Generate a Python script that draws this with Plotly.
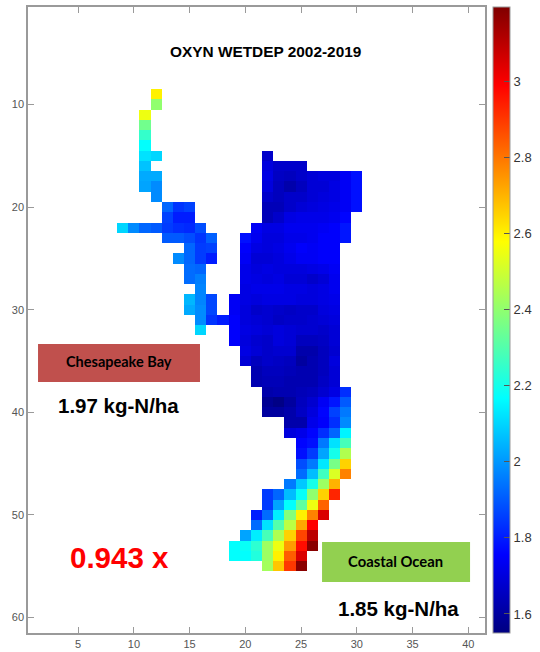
import plotly.graph_objects as go

x_ticks = [5, 10, 15, 20, 25, 30, 35, 40]
y_ticks = [10, 20, 30, 40, 50, 60]
cbar_ticks = [1.6, 1.8, 2, 2.2, 2.4, 2.6, 2.8, 3]
cbar_labels = ["1.6", "1.8", "2", "2.2", "2.4", "2.6", "2.8", "3"]
n_cols = 41
n_rows = 61
z_min, z_max = 1.55, 3.195

# Each row of the grid: [row number, first column, values...]
branch_rows = [
    [9, 12, 2.60], [10, 12, 2.40], [11, 11, 2.55], [12, 11, 2.35], [13, 11, 2.25], [14, 11, 2.17],
    [15, 11, 2.12, 2.10], [16, 11, 2.07], [17, 11, 2.03, 2.03], [18, 11, 2.02, 1.98], [19, 12, 1.98],
    [20, 13, 1.92, 1.84, 1.86], [21, 13, 1.86, 1.80, 1.80],
    [22, 9, 2.10, 1.98, 1.92, 1.90, 1.85, 1.83, 1.82, 1.88],
    [23, 13, 1.90, 1.90, 1.88, 1.84, 1.91], [24, 15, 1.92, 1.85, 1.86],
    [25, 14, 1.98, 1.92, 1.85, 1.80], [26, 15, 1.93, 1.92], [27, 15, 1.93, 1.96], [28, 16, 1.97],
    [29, 15, 2.05, 1.97, 1.87], [30, 15, 2.03, 1.98, 1.87], [31, 16, 1.98, 1.84, 1.80], [32, 16, 2.10],
]
body_rows = [
    [15, 22, 1.67], [16, 22, 1.70, 1.67, 1.67, 1.67],
    [17, 22, 1.71, 1.66, 1.65, 1.67, 1.69, 1.70, 1.70, 1.74, 1.78],
    [18, 22, 1.70, 1.65, 1.62, 1.65, 1.69, 1.69, 1.71, 1.74, 1.78],
    [19, 22, 1.67, 1.65, 1.67, 1.67, 1.69, 1.70, 1.71, 1.74, 1.78],
    [20, 22, 1.64, 1.64, 1.67, 1.69, 1.70, 1.71, 1.72, 1.74, 1.78],
    [21, 22, 1.64, 1.67, 1.71, 1.72, 1.72, 1.72, 1.73, 1.76],
    [22, 21, 1.74, 1.71, 1.71, 1.73, 1.73, 1.73, 1.74, 1.75, 1.79],
    [23, 20, 1.78, 1.73, 1.70, 1.70, 1.72, 1.72, 1.73, 1.75, 1.75, 1.79],
    [24, 20, 1.75, 1.71, 1.70, 1.71, 1.73, 1.75, 1.74, 1.75, 1.75],
    [25, 20, 1.74, 1.69, 1.69, 1.70, 1.72, 1.74, 1.74, 1.75, 1.75],
    [26, 20, 1.72, 1.70, 1.71, 1.70, 1.70, 1.70, 1.71, 1.72, 1.74],
    [27, 20, 1.72, 1.71, 1.70, 1.71, 1.69, 1.69, 1.67, 1.69, 1.73],
    [28, 20, 1.71, 1.72, 1.72, 1.72, 1.71, 1.71, 1.70, 1.71, 1.73],
    [29, 19, 1.74, 1.71, 1.70, 1.71, 1.71, 1.71, 1.70, 1.70, 1.71, 1.72],
    [30, 19, 1.74, 1.70, 1.67, 1.68, 1.67, 1.66, 1.67, 1.67, 1.70, 1.71],
    [31, 19, 1.75, 1.70, 1.69, 1.68, 1.66, 1.67, 1.67, 1.68, 1.69, 1.70],
    [32, 19, 1.75, 1.71, 1.70, 1.69, 1.70, 1.69, 1.68, 1.68, 1.67, 1.69],
    [33, 19, 1.75, 1.70, 1.68, 1.67, 1.70, 1.69, 1.65, 1.65, 1.66, 1.69],
    [34, 20, 1.71, 1.69, 1.67, 1.68, 1.68, 1.62, 1.62, 1.65, 1.68],
    [35, 20, 1.69, 1.65, 1.67, 1.66, 1.65, 1.60, 1.63, 1.65, 1.70],
    [36, 21, 1.63, 1.65, 1.65, 1.64, 1.63, 1.63, 1.65, 1.69],
    [37, 21, 1.63, 1.64, 1.64, 1.63, 1.63, 1.63, 1.66, 1.69],
    [38, 22, 1.62, 1.63, 1.63, 1.64, 1.65, 1.68, 1.71, 1.83],
    [39, 22, 1.58, 1.56, 1.60, 1.65, 1.68, 1.74, 1.79, 1.90],
    [40, 22, 1.60, 1.60, 1.62, 1.66, 1.70, 1.76, 1.86, 1.95],
]
ocean_rows = [
    [41, 24, 1.62, 1.62, 1.72, 1.75, 1.83, 1.98],
    [42, 24, 1.70, 1.72, 1.76, 1.83, 1.92, 2.15],
    [43, 25, 1.76, 1.78, 1.95, 2.12, 2.28],
    [44, 25, 1.78, 1.85, 2.02, 2.20, 2.45],
    [45, 25, 1.88, 1.95, 2.13, 2.36, 2.65],
    [46, 25, 1.93, 2.06, 2.27, 2.52, 2.78],
    [47, 24, 1.95, 2.08, 2.20, 2.42, 2.70],
    [48, 22, 1.85, 1.92, 2.06, 2.18, 2.40, 2.65, 2.93],
    [49, 22, 1.85, 2.02, 2.17, 2.32, 2.55, 2.83],
    [50, 21, 1.80, 1.93, 2.14, 2.38, 2.60, 2.78, 3.05],
    [51, 21, 1.93, 2.12, 2.30, 2.47, 2.72, 2.99],
    [52, 20, 2.02, 2.14, 2.28, 2.45, 2.65, 2.88, 3.10],
    [53, 19, 2.17, 2.18, 2.24, 2.42, 2.55, 2.74, 2.97, 3.18],
    [54, 19, 2.17, 2.17, 2.22, 2.42, 2.60, 2.84, 3.05],
    [55, 22, 2.43, 2.67, 2.90, 3.18],
]

grid = [[None] * n_cols for _ in range(n_rows)]
for entry in branch_rows + body_rows + ocean_rows:
    row, first = entry[0], entry[1]
    for k, v in enumerate(entry[2:]):
        grid[row - 1][first - 1 + k] = v

jet = [
    [0.0, "rgb(0,0,128)"], [0.125, "rgb(0,0,255)"], [0.375, "rgb(0,255,255)"],
    [0.625, "rgb(255,255,0)"], [0.875, "rgb(255,0,0)"], [1.0, "rgb(128,0,0)"],
]

GRAY = "#9a9a9a"
TICKC = "#555555"

fig = go.Figure(go.Heatmap(
    z=grid,
    x=list(range(1, n_cols + 1)),
    y=list(range(1, n_rows + 1)),
    colorscale=jet, zmin=z_min, zmax=z_max, hoverongaps=False,
    colorbar=dict(
        x=1.0175, xanchor="left", xpad=0, y=0.5, yanchor="middle", ypad=0,
        len=1, lenmode="fraction", thickness=17, thicknessmode="pixels",
        tickmode="array", tickvals=cbar_ticks, ticktext=cbar_labels,
        ticks="inside", ticklen=6, tickcolor="#555555", tickwidth=1,
        tickfont=dict(family="Liberation Sans", size=13, color="#333333"),
        outlinecolor=GRAY, outlinewidth=1,
    ),
))

axis_style = dict(
    showgrid=False, zeroline=False, showline=True, linecolor=GRAY, linewidth=1.5,
    mirror="allticks", ticks="inside", ticklen=6, tickcolor=GRAY, tickwidth=1,
    tickfont=dict(family="Liberation Sans", size=11, color=TICKC),
)
fig.update_xaxes(range=[0.5, 41.5], tickmode="array", tickvals=x_ticks,
                 ticktext=[str(v) for v in x_ticks], **axis_style)
fig.update_yaxes(range=[61.5, 0.5], tickmode="array", tickvals=y_ticks,
                 ticktext=[str(v) for v in y_ticks], **axis_style)

fig.add_shape(type="rect", x0=1.40, x1=15.93, y0=33.35, y1=37.05,
              fillcolor="#C0504D", line_width=0)
fig.add_shape(type="rect", x0=26.88, x1=40.16, y0=52.64, y1=56.54,
              fillcolor="#92D050", line_width=0)


def note(x, y, text, family, size, color="black"):
    fig.add_annotation(x=x, y=y, text=f"<b>{text}</b>", showarrow=False,
                       xanchor="center", yanchor="middle",
                       font=dict(family=family, size=size, color=color))


note(21.85, 4.85, "OXYN WETDEP 2002-2019", "Liberation Sans", 15.4)
note(8.66, 35.0, "Chesapeake Bay", "Lato", 14.5)
note(33.5, 54.5, "Coastal Ocean", "Lato", 14.8)
note(8.66, 39.3, "1.97 kg-N/ha", "Liberation Sans", 20.5)
note(33.7, 59.1, "1.85 kg-N/ha", "Liberation Sans", 20.5)
note(8.75, 54.1, "0.943 x", "Liberation Sans", 29.5, "#FF0000")

fig.update_layout(
    width=540, height=652, autosize=False,
    margin=dict(l=28, r=55, t=7, b=19, autoexpand=False),
    paper_bgcolor="white", plot_bgcolor="white",
)
fig.write_html("out.html", post_script="document.body.style.margin='0';",
               config={"displayModeBar": False})
